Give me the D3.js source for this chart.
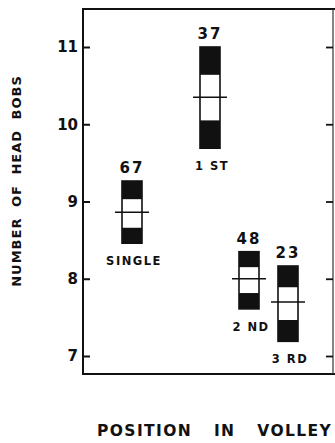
<!DOCTYPE html>
<html>
<head>
<meta charset="utf-8">
<script src="https://cdn.jsdelivr.net/npm/d3@7"></script>
<style>
  html, body { margin: 0; padding: 0; background: #fff; }
  svg { display: block; }
  text { font-family: "DejaVu Sans", "Liberation Sans", sans-serif; font-weight: bold; fill: #111; }
</style>
</head>
<body>
<svg id="chart" width="335" height="443"></svg>
<script>
// Head-bob counts by position in a volley
const categories = ["SINGLE", "1 ST", "2 ND", "3 RD"];
const sampleSizes = [67, 37, 48, 23];
const means      = [8.86, 10.35, 8.00, 7.70];
const outerHigh  = [9.265, 11.00, 8.35, 8.165];
const innerHigh  = [9.03, 10.64, 8.15, 7.89];
const innerLow   = [8.66, 10.05, 7.815, 7.466];
const outerLow   = [8.46, 9.69, 7.61, 7.19];
const yTicks = [7, 8, 9, 10, 11];

const rows = categories.map((c, i) => ({
  cat: c, n: sampleSizes[i], mean: means[i],
  hi2: outerHigh[i], hi1: innerHigh[i], lo1: innerLow[i], lo2: outerLow[i]
}));

const svg = d3.select("#chart");
const frame = { left: 83, right: 333, top: 9, bottom: 374 };

const y = d3.scaleLinear().domain([7, 11]).range([356, 47]);
// a blank slot separates single bobbers from the volley positions
const x = d3.scalePoint()
  .domain(["SINGLE", "_gap", "1 ST", "2 ND", "3 RD"])
  .range([132, 288]);

const boxW = 20, meanW = 34;

// frame
const g = svg.append("g");
g.append("path")
  .attr("d", `M${frame.right + 10},${frame.top} H${frame.left} V${frame.bottom} H${frame.right + 10}`)
  .attr("fill", "none").attr("stroke", "#111").attr("stroke-width", 2);
g.append("line")
  .attr("x1", frame.right).attr("x2", frame.right)
  .attr("y1", frame.top).attr("y2", frame.bottom)
  .attr("stroke", "#333").attr("stroke-width", 1.2);

// left axis, ticks pointing inward
const leftAxis = svg.append("g")
  .attr("transform", `translate(${frame.left},0)`)
  .call(d3.axisLeft(y).tickValues(yTicks).tickSize(-7).tickPadding(5).tickFormat(d3.format("d")));
leftAxis.select(".domain").remove();
leftAxis.selectAll(".tick line").attr("stroke", "#111").attr("stroke-width", 2);
leftAxis.selectAll(".tick text")
  .attr("font-size", 15).attr("font-family", "DejaVu Sans, sans-serif")
  .attr("font-weight", "bold").attr("fill", "#111");

// right axis ticks
const rightAxis = svg.append("g")
  .attr("transform", `translate(${frame.right},0)`)
  .call(d3.axisRight(y).tickValues(yTicks).tickSize(-7).tickFormat(""));
rightAxis.select(".domain").remove();
rightAxis.selectAll(".tick line").attr("stroke", "#111").attr("stroke-width", 1.8);

// boxes
const box = svg.append("g").selectAll("g").data(rows).join("g")
  .attr("transform", d => `translate(${x(d.cat)},0)`);

box.append("rect")
  .attr("x", -boxW / 2).attr("width", boxW)
  .attr("y", d => y(d.hi2)).attr("height", d => y(d.lo2) - y(d.hi2))
  .attr("fill", "#fff").attr("stroke", "#111").attr("stroke-width", 1.6);
box.append("rect")
  .attr("x", -boxW / 2).attr("width", boxW)
  .attr("y", d => y(d.hi2)).attr("height", d => y(d.hi1) - y(d.hi2))
  .attr("fill", "#111");
box.append("rect")
  .attr("x", -boxW / 2).attr("width", boxW)
  .attr("y", d => y(d.lo1)).attr("height", d => y(d.lo2) - y(d.lo1))
  .attr("fill", "#111");
box.append("line")
  .attr("x1", -meanW / 2).attr("x2", meanW / 2)
  .attr("y1", d => y(d.mean)).attr("y2", d => y(d.mean))
  .attr("stroke", "#111").attr("stroke-width", 1.6);

box.append("text")
  .attr("text-anchor", "middle")
  .attr("y", d => y(d.hi2) - 8)
  .attr("font-size", 15).attr("letter-spacing", 2)
  .text(d => d.n);
box.append("text")
  .attr("text-anchor", "middle")
  .attr("x", 2)
  .attr("y", d => y(d.lo2) + 22)
  .attr("font-size", 11.5).attr("letter-spacing", 1.5)
  .text(d => d.cat);

// axis titles
svg.append("text")
  .attr("transform", "translate(21,181) rotate(-90)")
  .attr("text-anchor", "middle")
  .attr("font-size", 13).attr("letter-spacing", 1).attr("word-spacing", 5)
  .text("NUMBER OF HEAD BOBS");
svg.append("text")
  .attr("x", 97).attr("y", 436)
  .attr("font-size", 15.5).attr("letter-spacing", 1.4).attr("word-spacing", 15)
  .text("POSITION IN VOLLEY");
</script>
</body>
</html>
